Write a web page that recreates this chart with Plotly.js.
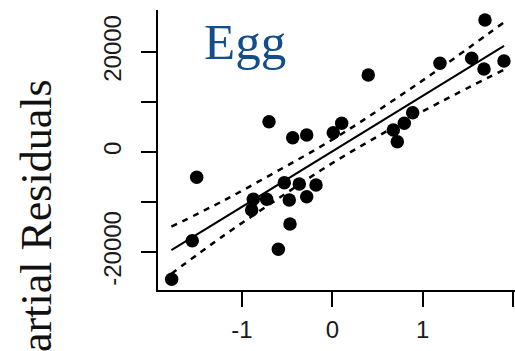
<!DOCTYPE html>
<html>
<head>
<meta charset="utf-8">
<script src="https://cdn.plot.ly/plotly-3.0.1.min.js"></script>
<style>html,body{margin:0;padding:0;background:#fff;}#chart{width:515px;height:351px;}</style>
</head>
<body>
<div id="chart"></div>
<script>
// Partial residual points (x: Egg term, y: partial residual)
var pointX = [-1.777, -1.549, -1.500, -0.700, -0.874, -0.892, -0.726, -0.531, -0.365, -0.180,
              -0.283, -0.476, -0.468, -0.597, -0.438, -0.283, 0.011, 0.104, 0.398, 0.675,
              0.719, 0.796, 0.889, 1.191, 1.542, 1.678, 1.689, 1.899];
var pointY = [-25460, -17740, -5060, 6060, -9460, -11600, -9460, -6140, -6400, -6600,
              -8940, -9600, -14400, -19460, 2860, 3400, 3860, 5740, 15400, 4400,
              2060, 5740, 7860, 17740, 18740, 16600, 26400, 18200];

// Fitted line and confidence band
var fitX = [-1.78, -1.2, -0.6, 0, 0.6, 1.2, 1.9];
var fitY = [-19640, -13200, -6540, 120, 6780, 13440, 21210];
var upperY = [-14940, -9700, -3740, 2470, 9430, 16840, 25960];
var lowerY = [-24340, -16700, -9340, -2230, 4130, 10040, 16460];

var xTickVals = [-1, 0, 1, 2];
var xTickText = ['-1', '0', '1', '2'];
var yTickVals = [-20000, -10000, 0, 10000, 20000];
var yTickText = ['-20000', '', '0', '', '20000'];

var panelTitle = 'Egg';
var yTitle = 'Partial Residuals';

var traces = [
  {x: fitX, y: upperY, mode: 'lines', line: {color: '#000', width: 2.5, dash: '6px,6px', shape: 'spline'}, hoverinfo: 'skip'},
  {x: fitX, y: lowerY, mode: 'lines', line: {color: '#000', width: 2.5, dash: '6px,6px', shape: 'spline'}, hoverinfo: 'skip'},
  {x: fitX, y: fitY, mode: 'lines', line: {color: '#000', width: 2}, hoverinfo: 'skip'},
  {x: pointX, y: pointY, mode: 'markers', marker: {color: '#000', size: 13.5}}
];

var tickFont = {family: 'Liberation Sans, Arial, sans-serif', size: 24, color: '#1a1a1a'};

var layout = {
  width: 515, height: 351,
  margin: {l: 158, r: 0, t: 10, b: 61, pad: 0},
  paper_bgcolor: '#fff', plot_bgcolor: '#fff',
  showlegend: false,
  xaxis: {
    range: [-1.928, 2.021], tickvals: xTickVals, ticktext: xTickText,
    showgrid: false, zeroline: false, showline: true, linecolor: '#000', linewidth: 2,
    ticks: 'outside', ticklen: 15, tickwidth: 2, tickcolor: '#000',
    tickfont: tickFont, ticklabelstandoff: 2
  },
  yaxis: {
    range: [-27600, 28400], tickvals: yTickVals, ticktext: yTickText, tickangle: -90,
    showgrid: false, zeroline: false, showline: true, linecolor: '#000', linewidth: 2,
    ticks: 'outside', ticklen: 15, tickwidth: 2, tickcolor: '#000',
    tickfont: tickFont, ticklabelstandoff: 10
  },
  annotations: [
    {text: panelTitle, xref: 'paper', yref: 'paper', x: 0.124, y: 0.886, xanchor: 'left', yanchor: 'middle',
     showarrow: false, font: {family: 'Liberation Serif, Times New Roman, serif', size: 51, color: '#124d8c'}},
    {text: yTitle, xref: 'paper', yref: 'paper', x: -0.3417, y: 0.22, xanchor: 'center', yanchor: 'middle',
     textangle: -90, showarrow: false, font: {family: 'Liberation Serif, Times New Roman, serif', size: 44, color: '#111'}}
  ]
};

Plotly.newPlot('chart', traces, layout, {displayModeBar: false, staticPlot: true});
</script>
</body>
</html>
